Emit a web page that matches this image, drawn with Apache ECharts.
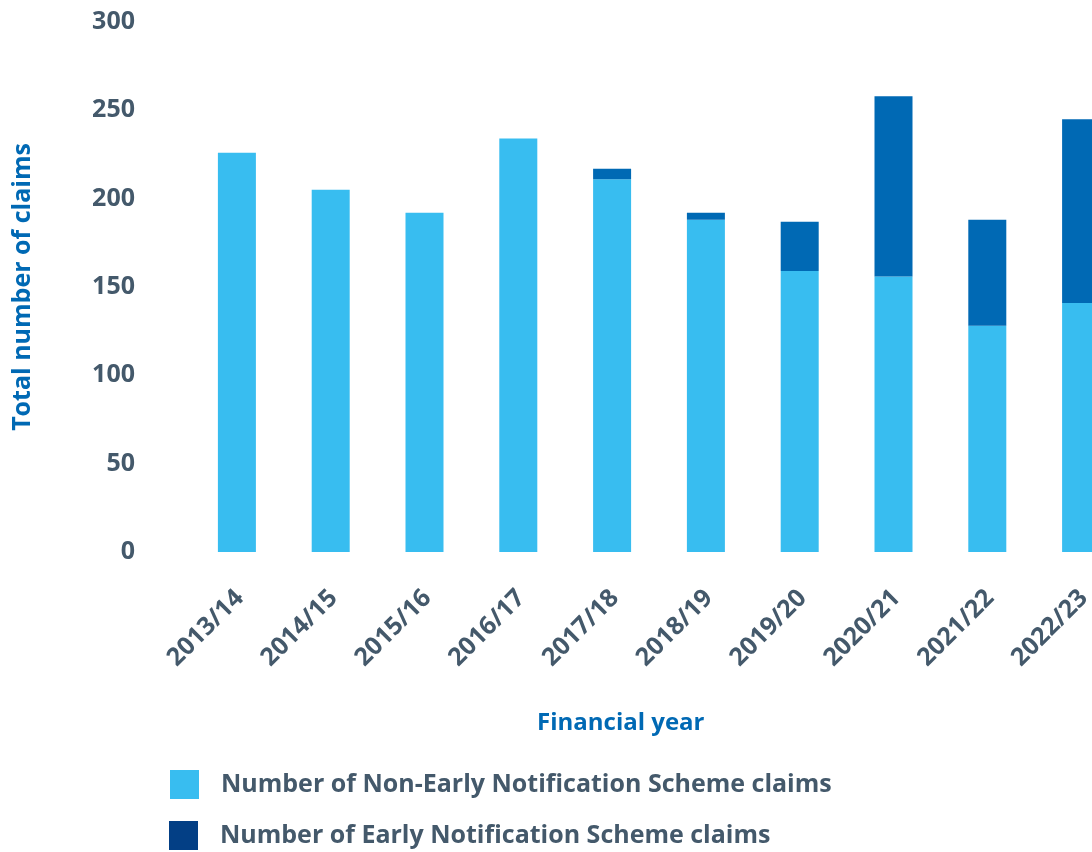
<!DOCTYPE html>
<html>
<head>
<meta charset="utf-8">
<script src="https://cdn.jsdelivr.net/npm/echarts@6/dist/echarts.min.js"></script>
<style>
html,body{margin:0;padding:0;background:#fff;}
#chart{width:1092px;height:852px;}
</style>
</head>
<body>
<div id="chart"></div>
<script>
const categories = ['2013/14','2014/15','2015/16','2016/17','2017/18','2018/19','2019/20','2020/21','2021/22','2022/23'];
const nonEnsClaims = [226, 205, 192, 234, 211, 188, 159, 156, 128, 141];
const ensClaims = [0, 0, 0, 0, 6, 4, 28, 102, 60, 104];
const yTicks = { min: 0, max: 300, interval: 50 };
const seriesNames = ['Number of Non-Early Notification Scheme claims', 'Number of Early Notification Scheme claims'];

const grey = '#44596B';
const blue = '#0069B4';
const light = '#38BDF0';
const legendDark = '#033F85';
const font = 'Open Sans';

const legendText = { color: grey, fontFamily: font, fontWeight: 'bold', fontSize: 25, padding: [0,0,0,17] };

const chart = echarts.init(document.getElementById('chart'));
chart.setOption({
  animation: false,
  backgroundColor: '#fff',
  grid: { left: 190, width: 938, top: 22, bottom: 300, containLabel: false, outerBoundsMode: 'none' },
  xAxis: {
    type: 'category',
    data: categories,
    axisLine: { show: false },
    axisTick: { show: false },
    axisLabel: { rotate: 45, margin: 45, padding: [0,-4,0,0], color: grey, fontFamily: font, fontWeight: 'bold', fontSize: 25, interval: 0 }
  },
  yAxis: {
    type: 'value',
    min: yTicks.min, max: yTicks.max, interval: yTicks.interval,
    axisLine: { show: false },
    axisTick: { show: false },
    splitLine: { show: false },
    axisLabel: { margin: 55, color: grey, fontFamily: font, fontWeight: 'bold', fontSize: 25 },
    name: 'Total number of claims',
    nameLocation: 'middle',
    nameRotate: 90,
    nameGap: 155,
    nameTextStyle: { color: blue, fontFamily: font, fontWeight: 'bold', fontSize: 25 }
  },
  legend: [
    {
      left: 170, top: 770, padding: 0,
      itemWidth: 29, itemHeight: 29, icon: 'rect',
      textStyle: legendText,
      data: [{ name: seriesNames[0], itemStyle: { color: light } }]
    },
    {
      left: 169, top: 821, padding: 0,
      itemWidth: 29, itemHeight: 29, icon: 'rect',
      textStyle: legendText,
      data: [{ name: seriesNames[1], itemStyle: { color: legendDark } }]
    }
  ],
  graphic: [{
    type: 'text', left: 537, top: 711,
    style: { text: 'Financial year', fill: blue, font: 'bold 24px "Open Sans"' }
  }],
  series: [
    { name: seriesNames[0], type: 'bar', stack: 'total', barWidth: 38, data: nonEnsClaims, itemStyle: { color: light } },
    { name: seriesNames[1], type: 'bar', stack: 'total', barWidth: 38, data: ensClaims, itemStyle: { color: blue } }
  ]
});
</script>
</body>
</html>
